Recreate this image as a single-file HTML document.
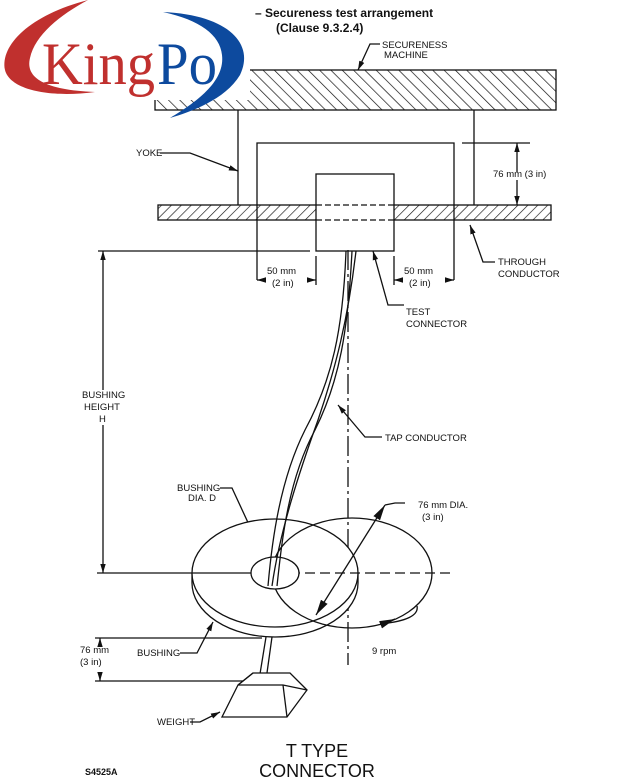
<!DOCTYPE html>
<html><head><style>
html,body{margin:0;padding:0;background:#fff}
svg{display:block}
text{font-family:"Liberation Sans",Arial,sans-serif;fill:#111}
.s{font-size:9.5px}
.logo{font-family:"Liberation Serif",serif;font-size:60px}
</style></head><body>
<svg width="622" height="784" viewBox="0 0 622 784" xmlns="http://www.w3.org/2000/svg">
<defs>
<pattern id="h1" width="8" height="8" patternUnits="userSpaceOnUse" patternTransform="rotate(-45)"><line x1="0" y1="0" x2="0" y2="8" stroke="#111" stroke-width="1.4"/></pattern>
<pattern id="h2" width="7" height="7" patternUnits="userSpaceOnUse" patternTransform="rotate(45)"><line x1="0" y1="0" x2="0" y2="7" stroke="#111" stroke-width="1.3"/></pattern>
<marker id="a" viewBox="0 0 10 10" refX="10" refY="5" markerWidth="7" markerHeight="7" orient="auto-start-reverse"><path d="M0,2 L10,5 L0,8z" fill="#111"/></marker>
<marker id="b" viewBox="0 0 10 10" refX="10" refY="5" markerWidth="12" markerHeight="12" orient="auto-start-reverse"><path d="M0,2.5 L10,5 L0,7.5z" fill="#111"/></marker>
</defs>
<g stroke="#111" fill="none" stroke-width="1.3">
<rect x="155" y="70" width="401" height="40" fill="url(#h1)"/>
<line x1="238" y1="110" x2="238" y2="205"/><line x1="474" y1="110" x2="474" y2="205"/>
<polyline points="257,280 257,143 454,143 454,280"/>
<rect x="158" y="205" width="393" height="15" fill="url(#h2)"/>
<rect x="316" y="174" width="78" height="77" fill="#fff"/>
<line x1="316" y1="205" x2="394" y2="205" stroke-dasharray="6,3"/>
<line x1="316" y1="220" x2="394" y2="220" stroke-dasharray="6,3"/>
<line x1="462" y1="143" x2="530" y2="143"/>
<line x1="517" y1="172" x2="517" y2="143" marker-end="url(#a)"/>
<line x1="517" y1="180" x2="517" y2="205" marker-end="url(#a)"/>
<line x1="316" y1="256" x2="316" y2="285"/><line x1="394" y1="256" x2="394" y2="285"/>
<line x1="264" y1="280" x2="257" y2="280" marker-end="url(#a)"/><line x1="309" y1="280" x2="316" y2="280" marker-end="url(#a)"/>
<line x1="401" y1="280" x2="394" y2="280" marker-end="url(#a)"/><line x1="447" y1="280" x2="454" y2="280" marker-end="url(#a)"/>
<line x1="98" y1="251" x2="310" y2="251"/>
<line x1="103" y1="390" x2="103" y2="251" marker-end="url(#a)"/>
<line x1="103" y1="425" x2="103" y2="573" marker-end="url(#a)"/>
<polyline points="380,44 370,44 358,70" marker-end="url(#a)"/>
<polyline points="160,153 190,153 238,171" marker-end="url(#a)"/>
<polyline points="495,262 483,262 470,225" marker-end="url(#a)"/>
<polyline points="404,305 388,305 373,251" marker-end="url(#a)"/>
<polyline points="382,437 365,437 338,405" marker-end="url(#a)"/>
<polyline points="220,488 232,488 263,555" marker-end="url(#a)"/>
<polyline points="405,503 395,503 385,505"/>
<polyline points="180,653 197,653 213,622" marker-end="url(#a)"/>
<polyline points="190,722 200,722 220,712" marker-end="url(#a)"/>
<line x1="348" y1="250" x2="348" y2="665" stroke-dasharray="20,4,3,4"/>
<path d="M192,573 v10 a83,54 0 0 0 166,0 v-10" fill="#fff"/>
<ellipse cx="275" cy="573" rx="83" ry="54" fill="#fff"/>
<ellipse cx="352" cy="573" rx="80" ry="55" fill="none"/>
<line x1="97" y1="573" x2="300" y2="573"/>
<line x1="305" y1="573" x2="450" y2="573" stroke-dasharray="10,5"/>
<ellipse cx="275" cy="573" rx="24" ry="16" fill="#fff"/>
<path d="M277,586 C282,540 288,480 315,430 C340,380 348,330 352,251"/>
<path d="M268,586 C272,540 280,480 305,430 C332,380 343,330 346,251"/>
<path d="M272,586 C280,530 300,470 318,420 C335,370 348,320 356,251"/>
<line x1="266" y1="637" x2="259" y2="680"/><line x1="272" y1="637" x2="266" y2="680"/>
<line x1="316" y1="615" x2="385" y2="505" marker-start="url(#b)" marker-end="url(#b)"/>
<path d="M417,606 Q420,620 380,624"/>
<line x1="385" y1="623" x2="395" y2="619" marker-end="url(#b)"/>
<line x1="95" y1="638" x2="262" y2="638"/><line x1="95" y1="681" x2="250" y2="681"/>
<line x1="100" y1="645" x2="100" y2="638" marker-end="url(#a)"/>
<line x1="100" y1="674" x2="100" y2="681" marker-end="url(#a)"/>
<path d="M253,673 L290,673 L307,690 L287,717 L222,717 L238,685 Z" fill="#fff"/>
<polyline points="238,685 283,685 307,690"/><line x1="283" y1="685" x2="287" y2="717"/><line x1="253" y1="673" x2="238" y2="685"/>
</g>
<text x="255" y="17" font-size="12" font-weight="bold">– Secureness test arrangement</text>
<text x="276" y="32" font-size="12" font-weight="bold">(Clause 9.3.2.4)</text>
<text class="s" x="382" y="48">SECURENESS</text><text class="s" x="384" y="58">MACHINE</text>
<text class="s" x="136" y="156">YOKE</text>
<text class="s" x="493" y="177">76 mm (3 in)</text>
<text class="s" x="267" y="274">50 mm</text><text class="s" x="272" y="286">(2 in)</text>
<text class="s" x="404" y="274">50 mm</text><text class="s" x="409" y="286">(2 in)</text>
<text class="s" x="498" y="265">THROUGH</text><text class="s" x="498" y="277">CONDUCTOR</text>
<text class="s" x="406" y="315">TEST</text><text class="s" x="406" y="327">CONNECTOR</text>
<text class="s" x="385" y="441">TAP CONDUCTOR</text>
<text class="s" x="82" y="398">BUSHING</text><text class="s" x="84" y="410">HEIGHT</text><text class="s" x="99" y="422">H</text>
<text class="s" x="177" y="491">BUSHING</text><text class="s" x="188" y="501">DIA. D</text>
<text class="s" x="418" y="508">76 mm DIA.</text><text class="s" x="422" y="520">(3 in)</text>
<text class="s" x="372" y="654">9 rpm</text>
<text class="s" x="137" y="656">BUSHING</text>
<text class="s" x="80" y="653">76 mm</text><text class="s" x="80" y="665">(3 in)</text>
<text class="s" x="157" y="725">WEIGHT</text>
<text x="317" y="757" font-size="18" text-anchor="middle">T TYPE</text>
<text x="317" y="777" font-size="18" text-anchor="middle">CONNECTOR</text>
<text x="85" y="775" font-size="9" font-weight="bold">S4525A</text>
<rect x="0" y="0" width="250" height="100" fill="#fff"/>
<path d="M88,0 C30,15 0,45 5,70 C10,90 50,98 95,92 C45,90 25,78 30,58 C35,35 60,15 88,0Z" fill="#c0302e"/>
<path d="M163,12 C230,15 255,45 240,75 C225,100 190,112 170,118 C200,100 225,80 222,55 C220,35 200,20 163,12Z" fill="#0d4a9e"/>
<text class="logo" x="42" y="84" style="fill:#c0302e" textLength="113" lengthAdjust="spacingAndGlyphs">King</text>
<text class="logo" x="157" y="84" style="fill:#0d4a9e" textLength="60" lengthAdjust="spacingAndGlyphs">Po</text>
</svg>
</body></html>
